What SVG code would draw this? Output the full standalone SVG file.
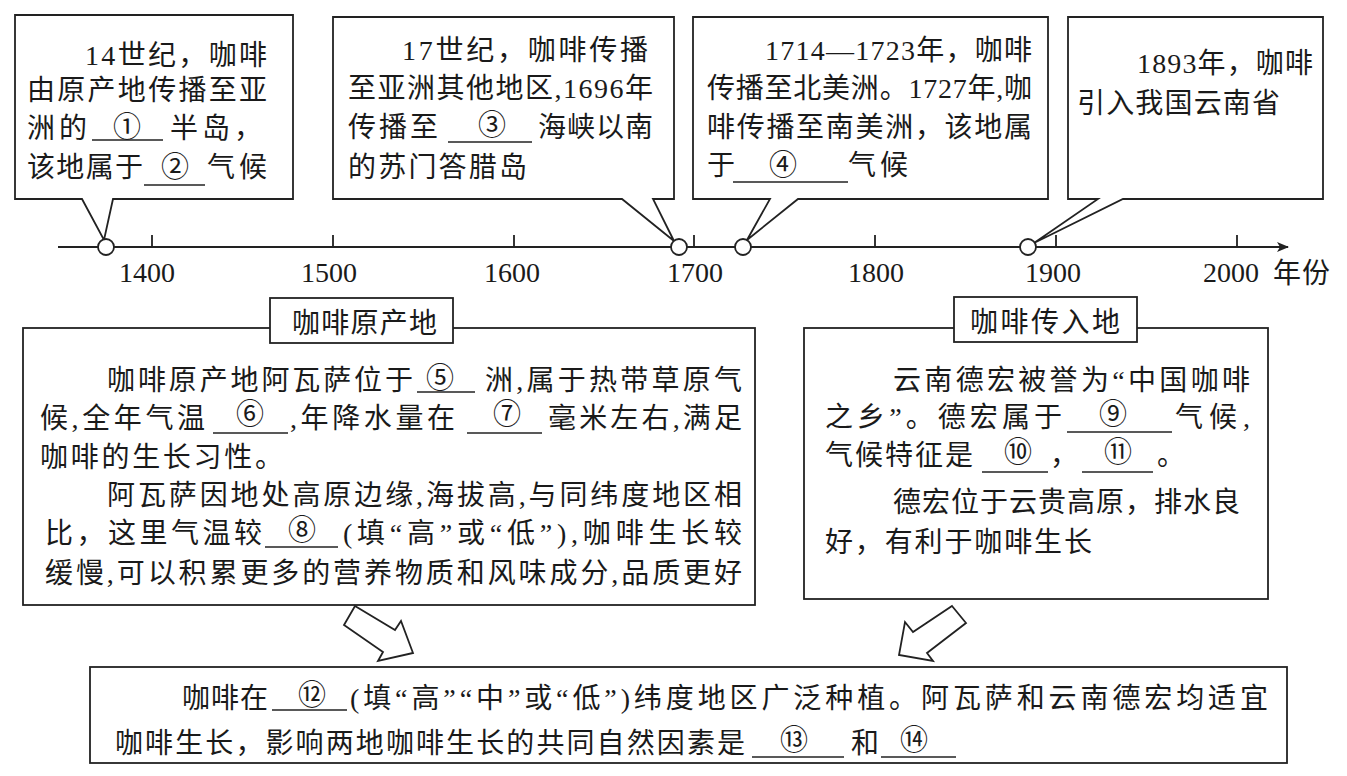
<svg xmlns="http://www.w3.org/2000/svg" width="1347" height="776" viewBox="0 0 1347 776">
<style>
.t{font-family:"Liberation Serif","Noto Sans CJK SC",serif;font-size:28px;fill:#1a1a1a}
.n{font-family:"Liberation Serif","Noto Sans CJK SC",serif;font-size:28px;fill:#1a1a1a;text-anchor:middle}
.c{font-family:"Liberation Serif","Noto Sans CJK SC",serif;font-size:28px;fill:#1a1a1a;text-anchor:middle}
.b{fill:#fff;stroke:#222;stroke-width:1.8}
.ul{stroke:#222;stroke-width:1.5}
.ax{stroke:#222;stroke-width:1.8;fill:none}
.dot{fill:#fff;stroke:#222;stroke-width:1.8}
</style>
<defs>
<marker id="ah" markerWidth="12" markerHeight="10" refX="11" refY="5" orient="auto" markerUnits="userSpaceOnUse">
<path d="M0,0 L12,5 L0,10 L3,5 Z" fill="#222"/>
</marker>
</defs>
<rect width="1347" height="776" fill="#fff"/>

<g id="axis">
<line class="ax" x1="58" y1="247" x2="1288" y2="247" marker-end="url(#ah)"/>
<path class="ax" d="M152,235V247M333,235V247M514,235V247M694,235V247M875,235V247M1056,235V247M1237,235V247"/>
<text class="n" x="147" y="282">1400</text>
<text class="n" x="329" y="282">1500</text>
<text class="n" x="512" y="282">1600</text>
<text class="n" x="695" y="282">1700</text>
<text class="n" x="876" y="282">1800</text>
<text class="n" x="1053" y="282">1900</text>
<text class="n" x="1231" y="282">2000</text>
<text class="t" x="1273" y="283" textLength="57">年份</text>
</g>

<g id="callout1">
<path class="b" d="M15,15H293V199H113L104,240L82,199H15Z"/>
<text class="t" x="85" y="65" textLength="182">14世纪，咖啡</text>
<text class="t" x="27" y="100" textLength="240">由原产地传播至亚</text>
<text class="t" x="27" y="138" textLength="60">洲的</text>
<line class="ul" x1="92" y1="140" x2="163" y2="140"/>
<text class="c" x="127" y="137">①</text>
<text class="t" x="170" y="138" textLength="92">半岛，</text>
<text class="t" x="27" y="177" textLength="116">该地属于</text>
<line class="ul" x1="144" y1="185" x2="205" y2="185"/>
<text class="c" x="175" y="177">②</text>
<text class="t" x="207" y="177" textLength="60">气候</text>
</g>

<g id="callout2">
<path class="b" d="M333,17H674V199H653L674,241L622,199H333Z"/>
<text class="t" x="402" y="60" textLength="246">17世纪，咖啡传播</text>
<text class="t" x="348" y="98" textLength="305">至亚洲其他地区,1696年</text>
<text class="t" x="348" y="137" textLength="90">传播至</text>
<line class="ul" x1="448" y1="142" x2="532" y2="142"/>
<text class="c" x="492" y="135">③</text>
<text class="t" x="538" y="137" textLength="115">海峡以南</text>
<text class="t" x="348" y="177" textLength="179">的苏门答腊岛</text>
</g>

<g id="callout3">
<path class="b" d="M693,17H1048V199H798L747,240L770,199H693Z"/>
<text class="t" x="765" y="60" textLength="267">1714—1723年，咖啡</text>
<text class="t" x="707" y="98" textLength="325">传播至北美洲。1727年,咖</text>
<text class="t" x="707" y="137" textLength="325">啡传播至南美洲，该地属</text>
<text class="t" x="707" y="175">于</text>
<line class="ul" x1="733" y1="182" x2="848" y2="182"/>
<text class="c" x="783" y="175">④</text>
<text class="t" x="848" y="175" textLength="60">气候</text>
</g>

<g id="callout4">
<path class="b" d="M1068,17H1323V199H1123L1034,243L1098,199H1068Z"/>
<text class="t" x="1137" y="73" textLength="176">1893年，咖啡</text>
<text class="t" x="1077" y="113" textLength="203">引入我国云南省</text>
</g>

<g id="dots">
<circle class="dot" cx="106" cy="247" r="8"/>
<circle class="dot" cx="679" cy="247" r="8"/>
<circle class="dot" cx="743" cy="247" r="8"/>
<circle class="dot" cx="1028" cy="247" r="8"/>
</g>

<g id="origin">
<rect class="b" x="23" y="328" width="732" height="277"/>
<rect class="b" x="270" y="298" width="183" height="45"/>
<text class="t" x="292" y="333" textLength="145">咖啡原产地</text>
<text class="t" x="107" y="390" textLength="306">咖啡原产地阿瓦萨位于</text>
<line class="ul" x1="417" y1="392" x2="475" y2="392"/>
<text class="c" x="440" y="388">⑤</text>
<text class="t" x="485" y="390" textLength="257">洲,属于热带草原气</text>
<text class="t" x="40" y="428" textLength="165">候,全年气温</text>
<line class="ul" x1="213" y1="433" x2="288" y2="433"/>
<text class="c" x="250" y="424">⑥</text>
<text class="t" x="290" y="428" textLength="165">,年降水量在</text>
<line class="ul" x1="467" y1="433" x2="542" y2="433"/>
<text class="c" x="507" y="424">⑦</text>
<text class="t" x="548" y="428" textLength="194">毫米左右,满足</text>
<text class="t" x="40" y="467" textLength="243">咖啡的生长习性。</text>
<text class="t" x="107" y="505" textLength="635">阿瓦萨因地处高原边缘,海拔高,与同纬度地区相</text>
<text class="t" x="45" y="543" textLength="217">比，这里气温较</text>
<line class="ul" x1="265" y1="547" x2="338" y2="547"/>
<text class="c" x="302" y="540">⑧</text>
<text class="t" x="343" y="543" textLength="399">(填“高”或“低”),咖啡生长较</text>
<text class="t" x="45" y="583" textLength="697">缓慢,可以积累更多的营养物质和风味成分,品质更好</text>
</g>

<g id="destination">
<rect class="b" x="804" y="328" width="464" height="271"/>
<rect class="b" x="954" y="297" width="183" height="45"/>
<text class="t" x="970" y="332" textLength="150">咖啡传入地</text>
<text class="t" x="893" y="390" textLength="357">云南德宏被誉为“中国咖啡</text>
<text class="t" x="825" y="427" textLength="237">之乡”。德宏属于</text>
<line class="ul" x1="1067" y1="432" x2="1172" y2="432"/>
<text class="c" x="1113" y="424">⑨</text>
<text class="t" x="1175" y="427" textLength="75">气候,</text>
<text class="t" x="825" y="465" textLength="148">气候特征是</text>
<line class="ul" x1="982" y1="472" x2="1048" y2="472"/>
<text class="c" x="1018" y="462">⑩</text>
<text class="t" x="1050" y="465">，</text>
<line class="ul" x1="1082" y1="472" x2="1153" y2="472"/>
<text class="c" x="1118" y="462">⑪</text>
<text class="t" x="1157" y="465">。</text>
<text class="t" x="893" y="512" textLength="347">德宏位于云贵高原，排水良</text>
<text class="t" x="825" y="552" textLength="267">好，有利于咖啡生长</text>
</g>

<g id="conclusion">
<rect class="b" x="90" y="667" width="1197" height="96"/>
<text class="t" x="182" y="708" textLength="86">咖啡在</text>
<line class="ul" x1="272" y1="710" x2="347" y2="710"/>
<text class="c" x="312" y="705">⑫</text>
<text class="t" x="350" y="708" textLength="918">(填“高”“中”或“低”)纬度地区广泛种植。阿瓦萨和云南德宏均适宜</text>
<text class="t" x="115" y="753" textLength="630">咖啡生长，影响两地咖啡生长的共同自然因素是</text>
<line class="ul" x1="752" y1="757" x2="844" y2="757"/>
<text class="c" x="794" y="750">⑬</text>
<text class="t" x="851" y="753">和</text>
<line class="ul" x1="881" y1="757" x2="956" y2="757"/>
<text class="c" x="914" y="750">⑭</text>
</g>

<g id="connectors">
<polygon class="b" points="355,606 395,630 401,621 413,653 378,661 383,652 344,625"/>
<polygon class="b" points="952,606 966,623 927,653 933,661 899,655 905,622 913,632"/>
</g>
</svg>
